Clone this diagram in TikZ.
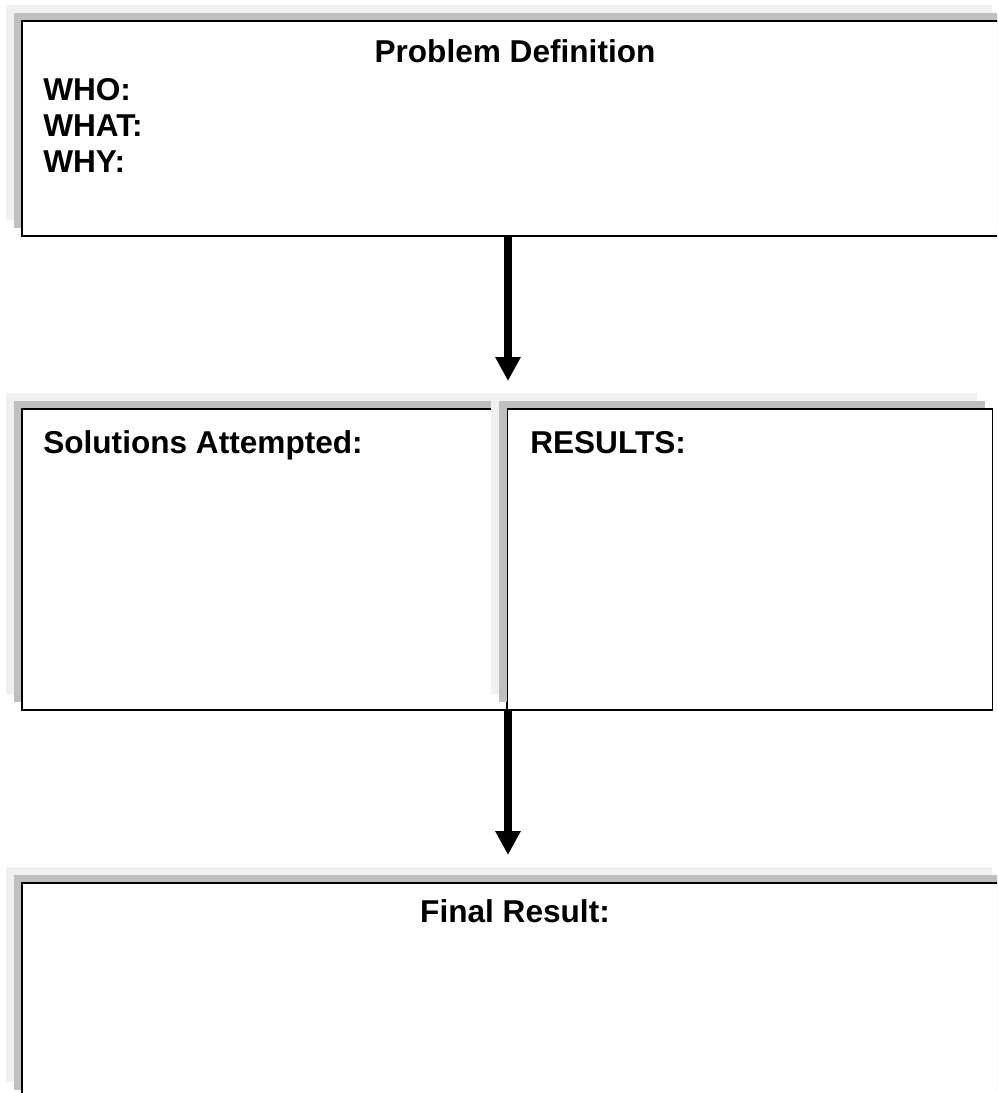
\documentclass[tikz,border=0pt]{standalone}
\usepackage{fontspec}
\setmainfont{Liberation Sans}
\usetikzlibrary{arrows.meta, positioning, shadows}

\begin{document}
\begin{tikzpicture}[
        x=0.75pt, y=-0.75pt,
        panel/.style={
            rectangle,
            draw=black,
            line width=1.2pt,
            fill=white,
            inner sep=0pt,
            general shadow={fill=black!6, shadow xshift=-12pt, shadow yshift=12pt},
            general shadow={fill=black!25, shadow xshift=-6pt, shadow yshift=6pt}
        },
        wide/.style={panel, minimum width=739.5pt, minimum height=161.25pt},
        half/.style={panel, minimum width=364pt, minimum height=225.75pt},
        lbl/.style={
            inner sep=0pt,
            font=\fontsize{23.7}{27}\selectfont\bfseries
        },
        arrow/.style={
            -{Triangle[width=18pt, length=18pt]},
            line width=6pt,
            black
        }
    ]
    \clip (0,0) rectangle (997,1093);

    % Problem box (top)
    \node[wide] (prob) at (515,128.5) {};
    \node[lbl, anchor=base] (probtitle) at ([yshift=-31.5pt]prob.north) {Problem Definition};
    \node[lbl, anchor=base west] (who)  at (43,100) {WHO:};
    \node[lbl, anchor=base west] (what) at (43,136) {WHAT:};
    \node[lbl, anchor=base west] (why)  at (43,172) {WHY:};

    % Middle row
    \node[half] (sol) at (264.5,559.5) {};
    \node[half] (res) at (750,559.5) {};
    \node[lbl, anchor=base west] (soltitle) at (43,453) {Solutions Attempted:};
    \node[lbl, anchor=base west] (restitle) at (530,453) {RESULTS:};

    % Final box (bottom)
    \node[wide] (final) at (515,990.5) {};
    \node[lbl, anchor=base] (finaltitle) at ([yshift=-30pt]final.north) {Final Result:};

    % Arrows
    \coordinate (tipa) at (508,381);
    \coordinate (tipb) at (508,855);
    \draw[arrow] (prob.south -| tipa) -- (tipa);
    \draw[arrow] (res.south west -| tipb) -- (tipb);

\end{tikzpicture}
\end{document}
